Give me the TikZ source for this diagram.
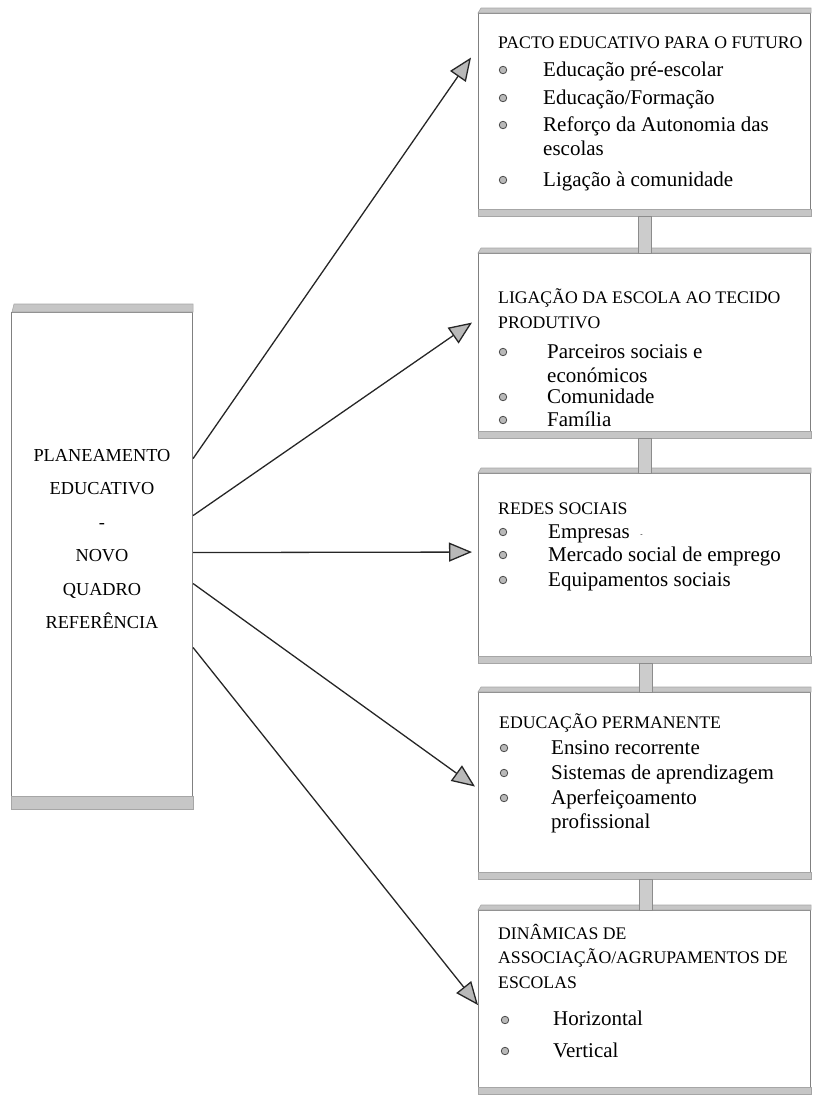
\documentclass[tikz,border=0pt]{standalone}
\usepackage{fontspec}
\setmainfont{Liberation Serif}
\usetikzlibrary{arrows.meta}

\tikzset{
  panel/.style={draw=black!50, line width=1.1pt, fill=white, inner sep=0pt, anchor=north west},
  band/.style={fill=gray!45, draw=gray!70, line width=0.6pt},
  stub/.style={fill=gray!40, draw=gray!90, line width=0.8pt},
  dot/.style={circle, fill=gray!55, draw=black!70, line width=0.8pt, inner sep=0pt, minimum size=7.5pt},
  head/.style={anchor=base west, inner sep=0pt, align=left, font=\fontsize{17.7}{24.8}\selectfont},
  item/.style={anchor=base west, inner sep=0pt, align=left, font=\fontsize{21}{24}\selectfont},
}

\begin{document}
\begin{tikzpicture}[x=1pt, y=-1pt, >={Triangle[length=23pt, width=19pt, fill=gray!55]}]
  \useasboundingbox (0,0) rectangle (813,1098);

  % left box
  \node [panel, minimum width=181pt, minimum height=496pt] (plan) at (11,312) {};
  \node [align=center, inner sep=0pt, font=\fontsize{18.3}{33.4}\selectfont] (plantitle) at (102,539)
    {PLANEAMENTO\\EDUCATIVO\\-\\NOVO\\QUADRO\\REFERÊNCIA};

  % right boxes
  \node [panel, minimum width=332pt, minimum height=202pt] (b1) at (478,13) {};
  \node [panel, minimum width=332pt, minimum height=184pt] (b2) at (478,253) {};
  \node [panel, minimum width=332pt, minimum height=189pt] (b3) at (478,473) {};
  \node [panel, minimum width=332pt, minimum height=186pt] (b4) at (478,692) {};
  \node [panel, minimum width=332pt, minimum height=183pt] (b5) at (478,910) {};

  \draw [band] ([xshift=1pt]plan.north west) -- ([xshift=3pt,yshift=8pt]plan.north west)
    -- ([yshift=8pt]plan.north east) -- (plan.north east) -- cycle;
  \draw [band] ([yshift=13pt]plan.south west) rectangle (plan.south east);
  \foreach \b in {b1,b2,b3,b4,b5} {
    \draw [band] (\b.north west) -- ([xshift=3pt,yshift=5pt]\b.north west)
      -- ([yshift=5pt]\b.north east) -- (\b.north east) -- cycle;
    \draw [band] ([yshift=7pt]\b.south west) rectangle (\b.south east);
  }

  % links between the boxes
  \draw [stub] ([xshift=160pt]b1.south west) rectangle ([xshift=173pt]b2.north west);
  \draw [stub] ([xshift=160pt]b2.south west) rectangle ([xshift=173pt]b3.north west);
  \draw [stub] ([xshift=161pt]b3.south west) rectangle ([xshift=174pt]b4.north west);
  \draw [stub] ([xshift=161pt]b4.south west) rectangle ([xshift=174pt]b5.north west);

  % arrows
  \draw [->, line width=1.3pt, black!85] ([yshift=102pt]plan.east) -- ([xshift=-7pt,yshift=57pt]b1.west);
  \draw [->, line width=1.3pt, black!85] ([yshift=45pt]plan.east) -- ([xshift=-6pt,yshift=23pt]b2.west);
  \draw [->, line width=1.3pt, black!85] ([yshift=8pt]plan.east) -- ([xshift=-6pt,yshift=16pt]b3.west);
  \draw [->, line width=1.3pt, black!85] ([yshift=-23pt]plan.east) -- ([xshift=-3pt,yshift=-1pt]b4.west);
  \draw [->, line width=1.3pt, black!85] ([yshift=-87pt]plan.east) -- ([xshift=0pt,yshift=-3pt]b5.west);

  % PACTO EDUCATIVO
  \node [head] (h1) at (498,48) {PACTO EDUCATIVO PARA O FUTURO};
  \node [dot] (d11) at (503,70) {};
  \node [item] (t11) at (543,76) {Educação pré-escolar};
  \node [dot] (d12) at (503,98) {};
  \node [item] (t12) at (543,104) {Educação/Formação};
  \node [dot] (d13) at (503,125) {};
  \node [item] (t13) at (543,155) {Reforço da Autonomia das\\escolas};
  \node [dot] (d14) at (503,180) {};
  \node [item] (t14) at (543,186) {Ligação à comunidade};

  % LIGACAO DA ESCOLA
  \node [head] (h2) at (498,328) {LIGAÇÃO DA ESCOLA AO TECIDO\\PRODUTIVO};
  \node [dot] (d21) at (503,352) {};
  \node [item] (t21) at (547,382) {Parceiros sociais e\\económicos};
  \node [dot] (d22) at (503,397) {};
  \node [item] (t22) at (547,403) {Comunidade};
  \node [dot] (d23) at (503,420) {};
  \node [item] (t23) at (547,426) {Família};

  % REDES SOCIAIS
  \node [head] (h3) at (498,514) {REDES SOCIAIS};
  \node [dot] (d31) at (503,532) {};
  \node [item] (t31) at (548,538) {Empresas~~\raisebox{2pt}{\scriptsize -}};
  \node [dot] (d32) at (503,555) {};
  \node [item] (t32) at (548,561) {Mercado social de emprego};
  \node [dot] (d33) at (503,580) {};
  \node [item] (t33) at (548,586) {Equipamentos sociais};

  % EDUCACAO PERMANENTE
  \node [head] (h4) at (499,728) {EDUCAÇÃO PERMANENTE};
  \node [dot] (d41) at (504,748) {};
  \node [item] (t41) at (551,754) {Ensino recorrente};
  \node [dot] (d42) at (504,773) {};
  \node [item] (t42) at (551,779) {Sistemas de aprendizagem};
  \node [dot] (d43) at (504,798) {};
  \node [item] (t43) at (551,828) {Aperfeiçoamento\\profissional};

  % DINAMICAS DE ASSOCIACAO
  \node [head] (h5) at (498,988.6) {DINÂMICAS DE\\ASSOCIAÇÃO/AGRUPAMENTOS DE\\ESCOLAS};
  \node [dot] (d51) at (505,1020) {};
  \node [item] (t51) at (553,1025) {Horizontal};
  \node [dot] (d52) at (505,1051) {};
  \node [item] (t52) at (553,1057) {Vertical};
\end{tikzpicture}
\end{document}
